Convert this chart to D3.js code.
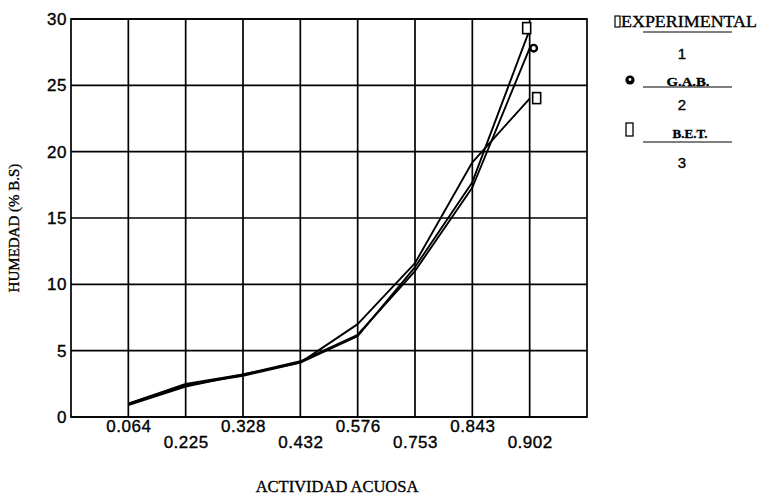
<!DOCTYPE html>
<html>
<head>
<meta charset="utf-8">
<script src="https://cdn.jsdelivr.net/npm/d3@7/dist/d3.min.js"></script>
<style>
  html, body { margin: 0; padding: 0; background: #fff; }
  svg { display: block; }
  text { stroke: #000; stroke-width: 0.35px; }
</style>
</head>
<body>
<script>
// Water activity categories (x axis) and moisture content (% dry basis)
const categories = ["0.064", "0.225", "0.328", "0.432", "0.576", "0.753", "0.843", "0.902"];
const experimental = [1.0, 2.4, 3.1, 4.1, 6.1, 11.3, 17.7, 29.2];
const gab = [0.9, 2.3, 3.2, 4.2, 6.2, 11.0, 17.3, 27.8];
const bet = [1.0, 2.5, 3.2, 4.1, 7.0, 11.6, 19.2, 24.0];
const yTicks = [0, 5, 10, 15, 20, 25, 30];

const W = 758, H = 495;
const plot = { left: 71, right: 587, top: 19, bottom: 417 };

const svg = d3.select("body").append("svg")
  .attr("width", W).attr("height", H);

const x = d3.scalePoint().domain(categories)
  .range([plot.left, plot.right]).padding(1);
const y = d3.scaleLinear().domain([0, 30]).range([plot.bottom, plot.top]);

const sans = "'Liberation Sans', Arial, sans-serif";
const serif = "'Liberation Serif', 'Times New Roman', serif";

// grid
const grid = svg.append("g").attr("stroke", "#000").attr("stroke-width", 1.7);
grid.selectAll("line.h").data(yTicks).join("line")
  .attr("x1", plot.left).attr("x2", plot.right)
  .attr("y1", d => y(d)).attr("y2", d => y(d));
grid.selectAll("line.v").data(categories).join("line")
  .attr("x1", d => x(d)).attr("x2", d => x(d))
  .attr("y1", plot.top).attr("y2", plot.bottom);
grid.append("rect")
  .attr("x", plot.left).attr("y", plot.top)
  .attr("width", plot.right - plot.left).attr("height", plot.bottom - plot.top)
  .attr("fill", "none");

// y tick labels
svg.append("g").selectAll("text").data(yTicks).join("text")
  .attr("x", plot.left - 4).attr("y", d => y(d))
  .attr("dy", "0.36em")
  .attr("text-anchor", "end")
  .attr("font-family", sans).attr("font-size", 17)
  .attr("letter-spacing", 0.5)
  .text(d => d);

// x tick labels, staggered in two rows
svg.append("g").selectAll("text").data(categories).join("text")
  .attr("x", d => x(d) + 0.5)
  .attr("y", (d, i) => i % 2 === 0 ? 432 : 448)
  .attr("text-anchor", "middle")
  .attr("font-family", sans).attr("font-size", 17)
  .attr("letter-spacing", 0.5)
  .text(d => d);

// axis titles
svg.append("text")
  .attr("x", 337).attr("y", 492)
  .attr("text-anchor", "middle")
  .attr("font-family", serif).attr("font-size", 16.5)
  .text("ACTIVIDAD ACUOSA");
svg.append("text")
  .attr("transform", "translate(19,228) rotate(-90)")
  .attr("text-anchor", "middle")
  .attr("font-family", serif).attr("font-size", 15)
  .text("HUMEDAD (% B.S)");

// curves
const line = d3.line().x((d, i) => x(categories[i])).y(d => y(d));
[experimental, gab, bet].forEach(s => {
  svg.append("path").datum(s)
    .attr("d", line)
    .attr("fill", "none").attr("stroke", "#000")
    .attr("stroke-width", 1.9).attr("stroke-linejoin", "round");
});

// end markers
const last = categories.length - 1;
const xe = x(categories[last]);
svg.append("rect")
  .attr("x", xe - 7).attr("y", y(experimental[last]) - 7)
  .attr("width", 8).attr("height", 11)
  .attr("fill", "#fff").attr("stroke", "#000").attr("stroke-width", 1.6);
svg.append("circle")
  .attr("cx", xe + 4).attr("cy", y(gab[last]))
  .attr("r", 3.3)
  .attr("fill", "#fff").attr("stroke", "#000").attr("stroke-width", 2.4);
svg.append("rect")
  .attr("x", xe + 3).attr("y", y(bet[last]) - 6)
  .attr("width", 8).attr("height", 11)
  .attr("fill", "#fff").attr("stroke", "#000").attr("stroke-width", 1.6);

// legend
const lg = svg.append("g");
lg.append("rect").attr("x", 615).attr("y", 16).attr("width", 5).attr("height", 11)
  .attr("fill", "none").attr("stroke", "#000").attr("stroke-width", 1.2);
lg.append("text").attr("x", 621).attr("y", 27)
  .attr("font-family", serif).attr("font-size", 16)
  .attr("textLength", 136).attr("lengthAdjust", "spacingAndGlyphs")
  .text("EXPERIMENTAL");
const underlines = [32, 87, 142];
lg.selectAll("line").data(underlines).join("line")
  .attr("x1", 643).attr("x2", 732)
  .attr("y1", d => d).attr("y2", d => d)
  .attr("stroke", "#000").attr("stroke-width", 1.1);
lg.selectAll("text.num").data(["1", "2", "3"]).join("text")
  .attr("class", "num")
  .attr("x", 682).attr("y", (d, i) => [59, 110, 168][i])
  .attr("text-anchor", "middle")
  .attr("font-family", sans).attr("font-size", 15)
  .text(d => d);
lg.append("circle").attr("cx", 630).attr("cy", 80).attr("r", 4.6)
  .attr("fill", "#000");
lg.append("circle").attr("cx", 630).attr("cy", 79.5).attr("r", 1.4)
  .attr("fill", "#fff");
lg.append("text").attr("x", 688).attr("y", 86)
  .attr("text-anchor", "middle")
  .attr("font-family", serif).attr("font-size", 13.5).attr("font-weight", "bold")
  .attr("textLength", 43).attr("lengthAdjust", "spacingAndGlyphs")
  .text("G.A.B.");
lg.append("rect").attr("x", 626).attr("y", 123).attr("width", 7).attr("height", 13)
  .attr("fill", "none").attr("stroke", "#000").attr("stroke-width", 1.3);
lg.append("text").attr("x", 690).attr("y", 138)
  .attr("text-anchor", "middle")
  .attr("font-family", serif).attr("font-size", 13.5).attr("font-weight", "bold")
  .attr("textLength", 35).attr("lengthAdjust", "spacingAndGlyphs")
  .text("B.E.T.");
</script>
</body>
</html>
